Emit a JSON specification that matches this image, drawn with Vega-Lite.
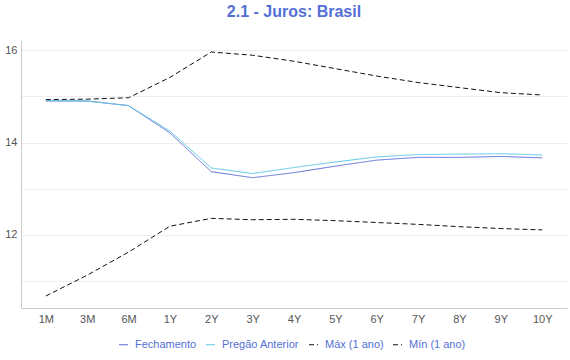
{
  "$schema": "https://vega.github.io/schema/vega-lite/v6.json",
  "autosize": {"type": "none"},
  "width": 546,
  "height": 268,
  "padding": {"left": 21, "top": 40, "right": 3, "bottom": 52},
  "background": "white",
  "title": {"text": "2.1 - Juros: Brasil", "font": "Liberation Sans", "fontSize": 16, "fontWeight": "bold", "color": "#5470d6", "anchor": "middle", "offset": 20},
  "config": {"view": {"stroke": null}, "font": "Liberation Sans"},
  "datasets": {
    "curve": [
      {"t": "1M", "s": "Fechamento", "v": 14.9}, {"t": "3M", "s": "Fechamento", "v": 14.9}, {"t": "6M", "s": "Fechamento", "v": 14.8}, {"t": "1Y", "s": "Fechamento", "v": 14.21}, {"t": "2Y", "s": "Fechamento", "v": 13.37}, {"t": "3Y", "s": "Fechamento", "v": 13.24}, {"t": "4Y", "s": "Fechamento", "v": 13.35}, {"t": "5Y", "s": "Fechamento", "v": 13.49}, {"t": "6Y", "s": "Fechamento", "v": 13.62}, {"t": "7Y", "s": "Fechamento", "v": 13.68}, {"t": "8Y", "s": "Fechamento", "v": 13.68}, {"t": "9Y", "s": "Fechamento", "v": 13.7}, {"t": "10Y", "s": "Fechamento", "v": 13.67},
      {"t": "1M", "s": "Pregão Anterior", "v": 14.91}, {"t": "3M", "s": "Pregão Anterior", "v": 14.9}, {"t": "6M", "s": "Pregão Anterior", "v": 14.8}, {"t": "1Y", "s": "Pregão Anterior", "v": 14.25}, {"t": "2Y", "s": "Pregão Anterior", "v": 13.45}, {"t": "3Y", "s": "Pregão Anterior", "v": 13.33}, {"t": "4Y", "s": "Pregão Anterior", "v": 13.46}, {"t": "5Y", "s": "Pregão Anterior", "v": 13.58}, {"t": "6Y", "s": "Pregão Anterior", "v": 13.69}, {"t": "7Y", "s": "Pregão Anterior", "v": 13.74}, {"t": "8Y", "s": "Pregão Anterior", "v": 13.75}, {"t": "9Y", "s": "Pregão Anterior", "v": 13.76}, {"t": "10Y", "s": "Pregão Anterior", "v": 13.73},
      {"t": "1M", "s": "Máx (1 ano)", "v": 14.93}, {"t": "3M", "s": "Máx (1 ano)", "v": 14.94}, {"t": "6M", "s": "Máx (1 ano)", "v": 14.97}, {"t": "1Y", "s": "Máx (1 ano)", "v": 15.41}, {"t": "2Y", "s": "Máx (1 ano)", "v": 15.96}, {"t": "3Y", "s": "Máx (1 ano)", "v": 15.89}, {"t": "4Y", "s": "Máx (1 ano)", "v": 15.76}, {"t": "5Y", "s": "Máx (1 ano)", "v": 15.6}, {"t": "6Y", "s": "Máx (1 ano)", "v": 15.44}, {"t": "7Y", "s": "Máx (1 ano)", "v": 15.3}, {"t": "8Y", "s": "Máx (1 ano)", "v": 15.19}, {"t": "9Y", "s": "Máx (1 ano)", "v": 15.08}, {"t": "10Y", "s": "Máx (1 ano)", "v": 15.03},
      {"t": "1M", "s": "Mín (1 ano)", "v": 10.68}, {"t": "3M", "s": "Mín (1 ano)", "v": 11.13}, {"t": "6M", "s": "Mín (1 ano)", "v": 11.63}, {"t": "1Y", "s": "Mín (1 ano)", "v": 12.19}, {"t": "2Y", "s": "Mín (1 ano)", "v": 12.36}, {"t": "3Y", "s": "Mín (1 ano)", "v": 12.33}, {"t": "4Y", "s": "Mín (1 ano)", "v": 12.34}, {"t": "5Y", "s": "Mín (1 ano)", "v": 12.31}, {"t": "6Y", "s": "Mín (1 ano)", "v": 12.27}, {"t": "7Y", "s": "Mín (1 ano)", "v": 12.23}, {"t": "8Y", "s": "Mín (1 ano)", "v": 12.18}, {"t": "9Y", "s": "Mín (1 ano)", "v": 12.14}, {"t": "10Y", "s": "Mín (1 ano)", "v": 12.11}
    ]
  },
  "data": {"name": "curve"},
  "mark": {"type": "line", "strokeWidth": 1},
  "encoding": {
    "x": {
      "field": "t", "type": "ordinal",
      "sort": ["1M", "3M", "6M", "1Y", "2Y", "3Y", "4Y", "5Y", "6Y", "7Y", "8Y", "9Y", "10Y"],
      "scale": {"type": "point", "padding": 0.6},
      "axis": {"title": null, "labelAngle": 0, "labelColor": "#555", "labelFontSize": 11, "ticks": false, "labelPadding": 5, "domainColor": "#ccc", "grid": false}
    },
    "y": {
      "field": "v", "type": "quantitative",
      "scale": {"domain": [10.42, 16.22], "nice": false, "zero": false},
      "axis": {"title": null, "values": [11, 12, 13, 14, 15, 16], "labelExpr": "datum.value % 2 == 0 ? datum.label : ''", "labelColor": "#555", "labelFontSize": 11, "ticks": false, "labelPadding": 4, "domainColor": "#ccc", "gridColor": "#eeeeee"}
    },
    "color": {
      "field": "s", "type": "nominal",
      "scale": {"domain": ["Fechamento", "Pregão Anterior", "Máx (1 ano)", "Mín (1 ano)"], "range": ["#5b6fd6", "#5cc8e6", "#111111", "#111111"]},
      "legend": {"title": null, "orient": "none", "legendX": 97, "legendY": 299, "direction": "horizontal", "labelColor": "#5470d6", "labelFontSize": 11, "symbolType": "stroke", "symbolSize": 81, "symbolStrokeWidth": 1, "columnPadding": 7, "labelOffset": 6}
    },
    "strokeDash": {
      "field": "s", "type": "nominal",
      "scale": {"domain": ["Fechamento", "Pregão Anterior", "Máx (1 ano)", "Mín (1 ano)"], "range": [[1, 0], [1, 0], [5, 3], [5, 3]]},
      "legend": {"title": null, "orient": "none", "legendX": 97, "legendY": 299, "direction": "horizontal", "labelColor": "#5470d6", "labelFontSize": 11, "symbolType": "stroke", "symbolSize": 81, "symbolStrokeWidth": 1, "columnPadding": 7, "labelOffset": 6}
    }
  }
}
